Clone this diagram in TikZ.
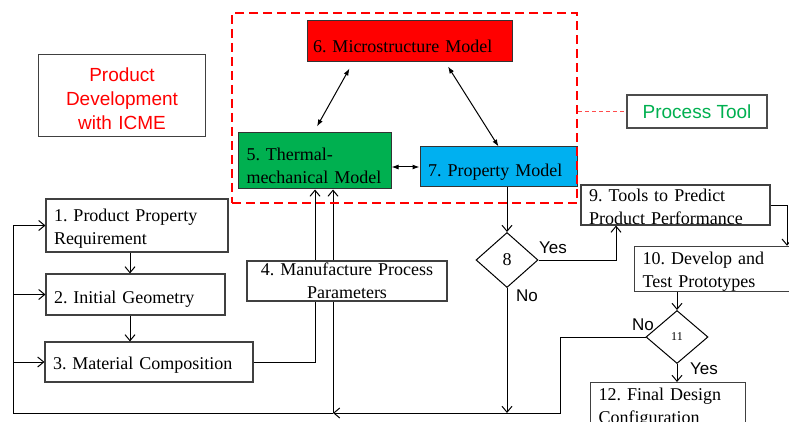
\documentclass[tikz,border=0pt]{standalone}
\usepackage{fontspec}
\setmainfont{Liberation Serif}
\setsansfont{Liberation Sans}
\usetikzlibrary{shapes.geometric,arrows.meta,calc,positioning}
\definecolor{icmered}{RGB}{255,0,0}
\definecolor{icmegreen}{RGB}{0,176,80}
\definecolor{icmeblue}{RGB}{0,176,240}
\frenchspacing
\newcommand\Stepfont{\fontsize{18}{23}\selectfont}
\newcommand\Labelfont{\sffamily\fontsize{17}{20}\selectfont}
\tikzset{stepbox/.style={
    draw=black!75,
    line width=1.1pt,
    fill=white,
    rectangle,
    inner xsep=8pt,
    inner ysep=0pt,
    align=left,
    font=\Stepfont
  },
  textdrop/.style={execute at begin node={\rule{0pt}{#1}}}}

\begin{document}
\begin{tikzpicture}[x=1pt,y=-1pt,
    model/.style={stepbox, line width=1pt, draw=black!80, textdrop=23pt},
    decision/.style={draw=black, line width=1pt, diamond, inner sep=0pt, fill=white},
    flow/.style={line width=1pt, -{Straight Barb[length=6pt,width=10pt]}},
    link/.style={line width=1pt, {Latex[length=7pt,width=5pt]}-{Latex[length=7pt,width=5pt]}}
  ]
  \clip (0,0) rectangle (789,422);
  \fill [white] (0,0) rectangle (789,422);

  % Title box
  \node (icme) [draw=black!75, line width=1pt, text width=160pt, minimum height=82pt, textdrop=19.5pt,
    align=center, text=icmered, font=\sffamily\fontsize{19}{24}\selectfont] at (122,96)
    {Product\\Development\\with ICME};

  % Models
  \node (micro) [model, fill=icmered, inner xsep=6pt, text width=193pt, minimum height=41pt] at (409.5,41.5) {6. Microstructure Model};
  \node (thermo) [model, fill=icmegreen, text width=136pt, inner xsep=8.5pt, minimum height=56pt] at (314.5,161) {5. Thermal-\\mechanical Model};
  \node (prop) [model, fill=icmeblue, text width=141pt, minimum height=40pt] at (498.5,167) {7. Property Model};

  % Steps
  \node (req) [stepbox, textdrop=18.5pt, text width=166pt, minimum height=53pt] at (137,225.5) {1. Product Property\\Requirement};
  \node (geom) [stepbox, textdrop=21pt, text width=163pt, minimum height=41pt] at (135.5,294.5) {2. Initial Geometry};
  \node (mat) [stepbox, textdrop=18.5pt, text width=192pt, minimum height=40pt] at (149,362) {3. Material Composition};
  \node (manu) [stepbox, align=center, text width=184pt, minimum height=40pt] at (347,281) {4. Manufacture Process\\Parameters};
  \node (tools) [stepbox, textdrop=16.5pt, text width=173pt, minimum height=40pt] at (675.5,205) {9. Tools to Predict\\Product Performance};
  \node (proto) [stepbox, textdrop=18.5pt, anchor=west, text width=150pt, minimum height=40pt] at (634,269) {10. Develop and\\Test Prototypes};
  \node (final) [stepbox, anchor=north west, text width=139pt, minimum height=51pt] at (590,382) {12. Final Design\\Configuration};

  % Decisions
  \node (dec8) [decision, minimum width=62pt, minimum height=55pt, font=\Stepfont] at (507,260) {8};
  \node (dec11) [decision, minimum width=62pt, minimum height=53pt, font=\fontsize{12}{14}\selectfont] at (677,337) {11};

  \node (yes8) [font=\Labelfont] at (553,248) {Yes};
  \node (no8) [font=\Labelfont] at (527,296) {No};
  \node (no11) [font=\Labelfont] at (643,325) {No};
  \node (yes11) [font=\Labelfont] at (704,369) {Yes};

  \coordinate (colA) at (130,0);
  \coordinate (colB) at (315,0);
  \coordinate (colC) at (333,0);
  \coordinate (colD) at (616,0);
  \coordinate (colE) at (787,0);
  \coordinate (fbleft) at (13,413);
  \coordinate (fbcorner) at (560,413);

  % Flow
  \draw [flow] (req.south -| colA) -- (geom.north -| colA);
  \draw [flow] (geom.south -| colA) -- (mat.north -| colA);
  \draw [line width=1pt] (mat.east) -| (manu.south -| colB);
  \draw [flow] (manu.north -| colB) -- (thermo.south -| colB);
  \draw [flow] (manu.north -| colC) -- (thermo.south -| colC);
  \draw [line width=1pt] (manu.south -| colC) -- (fbcorner -| colC);
  \draw [flow] (prop.south -| dec8.north) -- (dec8.north);
  \draw [flow] (dec8.east) -| (tools.south -| colD);
  \draw [flow] (dec8.south) -- (dec8.south |- fbcorner);
  \draw [flow] (tools.east) -- (tools.east -| colE) -- (proto.north -| colE);
  \draw [flow] (proto.south -| dec11.north) -- (dec11.north);
  \draw [flow] (dec11.south) -- (dec11.south |- final.north);

  % Feedback loop
  \draw [flow] (dec11.west) -| (fbcorner) -- (fbcorner -| colC);
  \draw [line width=1pt] (fbcorner -| colC) -- (fbleft) -- (fbleft |- req.west);
  \draw [flow] (fbleft |- req.west) -- (req.west);
  \draw [flow] (fbleft |- geom.west) -- (geom.west);
  \draw [flow] (fbleft |- mat.west) -- (mat.west);

  % Model links
  \draw [link] ($(micro.south west)+(43,6)$) -- ($(thermo.north)+(2.5,-6)$);
  \draw [link] ($(micro.south)+(38.5,4)$) -- (prop.north);
  \draw [link] (thermo.east |- prop.west) -- (prop.west);

  % Process tool
  \node (region) [draw=icmered, line width=2.5pt, dash pattern=on 9pt off 5pt,
    minimum width=345pt, minimum height=190pt] at (404.5,108) {};
  \node (proc) [draw=black!70, line width=1.2pt, minimum width=140pt, minimum height=33pt,
    text=icmegreen, font=\sffamily\fontsize{19}{23}\selectfont] at (697,111.5) {Process Tool};
  \draw [icmered!70, line width=1.3pt, dash pattern=on 4pt off 3pt] (region.east |- proc.west) -- (proc.west);

\end{tikzpicture}
\end{document}
